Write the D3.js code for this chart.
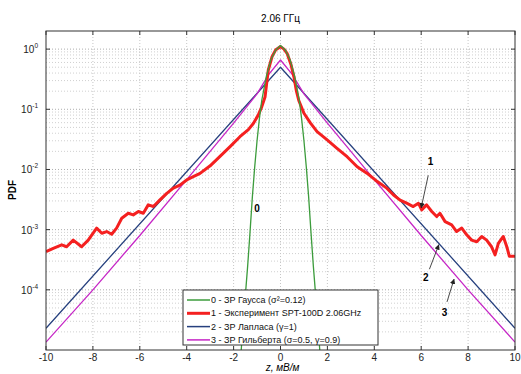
<!DOCTYPE html>
<html lang="ru">
<head>
<meta charset="UTF-8" />
<title>2.06 ГГц</title>
<script src="https://d3js.org/d3.v7.min.js"></script>
<style>
  body { margin: 0; background: #fff; font-family: "Liberation Sans", Arial, sans-serif; }
  svg { display: block; }
  .grid line { stroke: #b8b8b8; stroke-width: 0.8; stroke-dasharray: 1,2; }
  .tick-lbl { font-size: 10px; fill: #222; }
  .legend text { font-size: 9px; fill: #111; }
</style>
</head>
<body>
<svg id="chart" width="521" height="374"></svg>
<script>
  // x ticks and y decades
  const xTicks = [-10, -8, -6, -4, -2, 0, 2, 4, 6, 8, 10];
  const yDecades = [0, -1, -2, -3, -4];

  // 0 - Gaussian
  const gaussX = [-1.75, -1.6, -1.5, -1.4, -1.3, -1.2, -1.1, -1.0, -0.9, -0.8, -0.6, -0.4, -0.2, 0,
                  0.2, 0.4, 0.6, 0.8, 0.9, 1.0, 1.1, 1.2, 1.3, 1.4, 1.5, 1.6, 1.75];
  const gaussY = [4e-6, 2.5e-5, 8e-5, 2.5e-4, 9e-4, 3.5e-3, 0.011, 0.03, 0.07, 0.14, 0.36, 0.68, 0.97, 1.15,
                  0.97, 0.68, 0.36, 0.14, 0.07, 0.03, 0.011, 3.5e-3, 9e-4, 2.5e-4, 8e-5, 2.5e-5, 4e-6];

  // 1 - experiment SPT-100D 2.06 GHz
  const expX = [-10, -9.69, -9.33, -9.12, -8.84, -8.48, -8.2, -7.84, -7.62, -7.41, -7.2, -6.99, -6.77,
                -6.49, -6.28, -6.06, -5.85, -5.64, -5.42, -5.14, -4.85, -4.57, -4.29, -4.0, -3.72, -3.43,
                -3.0, -2.58, -2.15, -1.73, -1.37, -1.16, -0.95, -0.8, -0.66, -0.59, -0.52, -0.36, -0.2, 0,
                0.15, 0.28, 0.45, 0.57, 0.68, 0.78, 1.0, 1.28, 1.56, 1.99, 2.41, 2.84, 3.27, 3.7, 4.13,
                4.53, 4.81, 5.1, 5.38, 5.66, 5.88, 6.02, 6.23, 6.45, 6.66, 6.8, 7.02, 7.3, 7.51, 7.73,
                7.94, 8.15, 8.37, 8.58, 8.79, 9.0, 9.15, 9.29, 9.5, 9.65, 9.76, 10];
  const expY = [4.3e-4, 4.9e-4, 5.6e-4, 5.2e-4, 6.7e-4, 5.2e-4, 6.7e-4, 1.06e-3, 8.7e-4, 9.3e-4, 8.4e-4,
                1.06e-3, 1.55e-3, 1.87e-3, 1.76e-3, 2.0e-3, 1.87e-3, 2.58e-3, 2.42e-3, 3.12e-3, 4.0e-3,
                4.9e-3, 5.5e-3, 6.7e-3, 7.6e-3, 8.6e-3, 0.0115, 0.0165, 0.024, 0.035, 0.046, 0.058, 0.08,
                0.11, 0.16, 0.27, 0.45, 0.75, 0.98, 1.1, 1.0, 0.85, 0.55, 0.35, 0.2, 0.14, 0.086, 0.059,
                0.0425, 0.031, 0.0225, 0.0163, 0.0111, 0.0086, 0.0063, 0.0049, 0.0038, 0.0031, 0.00275,
                0.00242, 0.00275, 0.00213, 0.00258, 0.002, 0.00165, 0.00187, 0.00136, 0.0012, 0.00093,
                0.00106, 0.00082, 0.00067, 0.00063, 0.00077, 0.00067, 0.00052, 0.00038, 0.00059, 0.00077,
                0.00052, 0.00036, 0.00036];

  // 2 - Laplace (gamma = 1)
  const lapX = [-10, 0, 10];
  const lapY = [2.3e-5, 0.5, 2.3e-5];

  // 3 - Gilbert (sigma = 0.5, gamma = 0.9)
  const gilX = [-10, -8, -6, -4, -3, -2, -1, -0.5, 0, 0.5, 1, 2, 3, 4, 6, 8, 10];
  const gilY = [1.35e-5, 1.0e-4, 8.0e-4, 6.8e-3, 0.02, 0.059, 0.18, 0.38, 0.66, 0.38, 0.18, 0.059, 0.02,
                6.8e-3, 8.0e-4, 1.0e-4, 1.35e-5];

  const legendLabels = [
    "0 - ЗР Гаусса (σ²=0.12)",
    "1 - Эксперимент SPT-100D 2.06GHz",
    "2 - ЗР Лапласа (γ=1)",
    "3 - ЗР Гильберта (σ=0.5, γ=0.9)"
  ];
  const colors = ["#3c9c3c", "#f42020", "#26407e", "#c626c6"];
  const widths = [1.3, 3, 1.3, 1.3];

  const margin = { left: 46, top: 31, right: 6, bottom: 24 };
  const W = 521, H = 374;
  const iw = W - margin.left - margin.right;
  const ih = H - margin.top - margin.bottom;

  const svg = d3.select("#chart");
  const g = svg.append("g").attr("transform", `translate(${margin.left},${margin.top})`);

  const x = d3.scaleLinear().domain([-10, 10]).range([0, iw]);
  const y = d3.scaleLog().domain([1e-5, 2]).range([ih, 0]);

  g.append("defs").append("clipPath").attr("id", "clip")
    .append("rect").attr("width", iw).attr("height", ih);

  // grid
  const grid = g.append("g").attr("class", "grid");
  grid.selectAll(".vx").data(xTicks.slice(1, -1)).enter().append("line")
    .attr("x1", d => x(d)).attr("x2", d => x(d)).attr("y1", 0).attr("y2", ih);
  const minor = [];
  yDecades.concat([-5]).forEach(e => {
    for (let k = 1; k <= 9; k++) {
      const v = k * Math.pow(10, e);
      if (v > 1e-5 && v < 2) minor.push(v);
    }
  });
  grid.selectAll(".hy").data(minor).enter().append("line")
    .attr("x1", 0).attr("x2", iw).attr("y1", d => y(d)).attr("y2", d => y(d))
    .style("stroke", d => (Math.abs(Math.log10(d) - Math.round(Math.log10(d))) < 1e-6 ? "#999" : "#c4c4c4"));

  // curves
  const line = d3.line().x(d => x(d[0])).y(d => y(d[1]));
  const series = [
    d3.zip(gaussX, gaussY),
    d3.zip(expX, expY),
    d3.zip(lapX, lapY),
    d3.zip(gilX, gilY)
  ];
  const curves = g.append("g").attr("clip-path", "url(#clip)");
  [2, 3, 1, 0].forEach(i => {
    curves.append("path").datum(series[i])
      .attr("d", line).attr("fill", "none")
      .attr("stroke", colors[i]).attr("stroke-width", widths[i])
      .attr("stroke-linejoin", "round");
  });

  // frame and ticks (inside, on all sides)
  g.append("rect").attr("width", iw).attr("height", ih)
    .attr("fill", "none").attr("stroke", "#333").attr("stroke-width", 1);
  const tk = g.append("g").attr("stroke", "#333").attr("stroke-width", 1);
  xTicks.forEach(t => {
    tk.append("line").attr("x1", x(t)).attr("x2", x(t)).attr("y1", ih).attr("y2", ih - 4);
    tk.append("line").attr("x1", x(t)).attr("x2", x(t)).attr("y1", 0).attr("y2", 4);
  });
  yDecades.forEach(e => {
    const v = Math.pow(10, e);
    tk.append("line").attr("x1", 0).attr("x2", 4).attr("y1", y(v)).attr("y2", y(v));
    tk.append("line").attr("x1", iw).attr("x2", iw - 4).attr("y1", y(v)).attr("y2", y(v));
  });

  // tick labels
  g.selectAll(".xl").data(xTicks).enter().append("text")
    .attr("class", "tick-lbl").attr("text-anchor", "middle")
    .attr("x", d => x(d)).attr("y", ih + 11).text(d => d);
  yDecades.forEach(e => {
    const t = g.append("text").attr("class", "tick-lbl").attr("text-anchor", "end")
      .attr("x", -8).attr("y", y(Math.pow(10, e)) + 4);
    t.append("tspan").text("10");
    t.append("tspan").attr("dy", -5).style("font-size", "6.5px").text(e);
  });

  // titles
  svg.append("text").attr("x", margin.left + iw / 2).attr("y", 22)
    .attr("text-anchor", "middle").style("font-size", "10px").text("2.06 ГГц");
  svg.append("text").attr("x", margin.left + iw / 2 + 2).attr("y", 371)
    .attr("text-anchor", "middle").style("font-size", "10px").style("font-style", "italic")
    .text("z, мВ/м");
  svg.append("text").attr("transform", "translate(16,190) rotate(-90)")
    .attr("text-anchor", "middle").style("font-size", "10px").style("font-weight", "bold")
    .text("PDF");

  // annotations
  const ann = g.append("g").style("font-size", "10px").style("font-weight", "bold");
  ann.append("text").attr("x", x(-1.0)).attr("y", y(2e-3)).attr("text-anchor", "middle").text("0");
  const arrows = [
    { lbl: "1", lx: 6.4, ly: 0.012, from: [6.3, 0.008], to: [6.0, 0.0023] },
    { lbl: "2", lx: 6.2, ly: 1.4e-4, from: [6.35, 2.2e-4], to: [6.75, 5.6e-4] },
    { lbl: "3", lx: 7.0, ly: 3.7e-5, from: [7.1, 6.3e-5], to: [7.4, 1.5e-4] }
  ];
  const defs = svg.append("defs");
  defs.append("marker").attr("id", "arr").attr("viewBox", "0 0 10 10")
    .attr("refX", 9).attr("refY", 5).attr("markerWidth", 6).attr("markerHeight", 6)
    .attr("orient", "auto").append("path").attr("d", "M0,0L10,5L0,10z").attr("fill", "#222");
  arrows.forEach(a => {
    ann.append("text").attr("x", x(a.lx)).attr("y", y(a.ly)).attr("text-anchor", "middle").text(a.lbl);
    ann.append("line").attr("x1", x(a.from[0])).attr("y1", y(a.from[1]))
      .attr("x2", x(a.to[0])).attr("y2", y(a.to[1]))
      .attr("stroke", "#333").attr("stroke-width", 0.9).attr("marker-end", "url(#arr)");
  });

  // legend
  const lg = svg.append("g").attr("class", "legend").attr("transform", "translate(183,290)");
  lg.append("rect").attr("width", 195).attr("height", 55)
    .attr("fill", "#fff").attr("stroke", "#333").attr("stroke-width", 1);
  legendLabels.forEach((lab, i) => {
    const yy = 10 + i * 13.3;
    lg.append("line").attr("x1", 4).attr("x2", 27).attr("y1", yy).attr("y2", yy)
      .attr("stroke", colors[i]).attr("stroke-width", i === 1 ? 3 : 1.5);
    lg.append("text").attr("x", 28).attr("y", yy + 3).text(lab);
  });
</script>
</body>
</html>
